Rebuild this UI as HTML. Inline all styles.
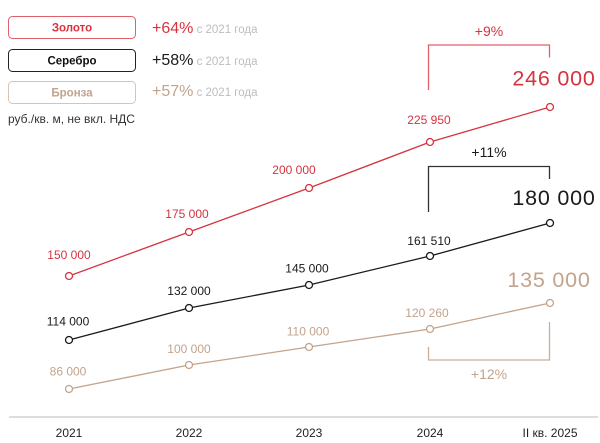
<!DOCTYPE html>
<html><head><meta charset="utf-8"><style>
html,body{margin:0;padding:0;background:#fff;}
svg{display:block;}
text{font-family:"Liberation Sans","DejaVu Sans",sans-serif;}
</style></head><body>
<svg width="600" height="443" viewBox="0 0 600 443" xmlns="http://www.w3.org/2000/svg">
<!-- legend -->
<rect x="8.5" y="16.5" width="127" height="22" rx="4" fill="#fff" stroke="#e0606a" stroke-width="1"/>
<text x="72" y="31.5" font-size="11.5" font-weight="bold" fill="#d6333f" text-anchor="middle">Золото</text>
<rect x="8.5" y="49.5" width="127" height="22" rx="4" fill="#fff" stroke="#222" stroke-width="1"/>
<text x="72" y="64.5" font-size="11.5" font-weight="bold" fill="#111" text-anchor="middle">Серебро</text>
<rect x="8.5" y="81.5" width="127" height="22" rx="4" fill="#fff" stroke="#d9c4b4" stroke-width="1"/>
<text x="72" y="96.5" font-size="11.5" font-weight="bold" fill="#c3a38b" text-anchor="middle">Бронза</text>

<text x="152" y="33" font-size="16" fill="#d6333f">+64%<tspan font-size="11.5" fill="#bdbdbd"> с 2021 года</tspan></text>
<text x="152" y="65" font-size="16" fill="#1a1a1a">+58%<tspan font-size="11.5" fill="#bdbdbd"> с 2021 года</tspan></text>
<text x="152" y="96" font-size="16" fill="#c3a38b">+57%<tspan font-size="11.5" fill="#bdbdbd"> с 2021 года</tspan></text>
<text x="8" y="123" font-size="12" fill="#333">руб./кв. м, не вкл. НДС</text>

<!-- axis -->
<line x1="9" y1="417" x2="598" y2="417" stroke="#dddddd" stroke-width="2"/>
<g font-size="12" fill="#222" text-anchor="middle">
<text x="69" y="437">2021</text>
<text x="189" y="437">2022</text>
<text x="309" y="437">2023</text>
<text x="430" y="437">2024</text>
<text x="550" y="437">II кв. 2025</text>
</g>

<!-- brackets -->
<polyline points="428.5,90 428.5,45 549.5,45 549.5,57.5" fill="none" stroke="#e0606a" stroke-width="1.3"/>
<text x="489" y="36" font-size="14" fill="#d6333f" text-anchor="middle">+9%</text>
<polyline points="428.5,212 428.5,166.5 549.5,166.5 549.5,179" fill="none" stroke="#333" stroke-width="1.3"/>
<text x="489" y="157" font-size="14" fill="#1a1a1a" text-anchor="middle">+11%</text>
<polyline points="428.5,347 428.5,360 549.5,360 549.5,322" fill="none" stroke="#c9ae99" stroke-width="1.3"/>
<text x="489" y="379" font-size="14" fill="#c3a38b" text-anchor="middle">+12%</text>

<!-- big labels -->
<text x="554" y="85.5" font-size="21.5" letter-spacing="0.8" fill="#d6333f" text-anchor="middle">246 000</text>
<text x="554" y="205" font-size="21.5" letter-spacing="0.8" fill="#1a1a1a" text-anchor="middle">180 000</text>
<text x="549" y="287" font-size="21.5" letter-spacing="0.8" fill="#c3a38b" text-anchor="middle">135 000</text>

<!-- series -->
<polyline points="69,276 189,232 309,188 430,142 550,107" fill="none" stroke="#d6333f" stroke-width="1.3"/>
<polyline points="69,340 189,308 309,285 430,256 550,223" fill="none" stroke="#1a1a1a" stroke-width="1.3"/>
<polyline points="69,389 189,365 309,347 430,329 550,303" fill="none" stroke="#c3a38b" stroke-width="1.3"/>
<g fill="#fff" stroke-width="1.3">
<g stroke="#d6333f"><circle cx="69" cy="276" r="3.5"/><circle cx="189" cy="232" r="3.5"/><circle cx="309" cy="188" r="3.5"/><circle cx="430" cy="142" r="3.5"/><circle cx="550" cy="107" r="3.5"/></g>
<g stroke="#1a1a1a"><circle cx="69" cy="340" r="3.5"/><circle cx="189" cy="308" r="3.5"/><circle cx="309" cy="285" r="3.5"/><circle cx="430" cy="256" r="3.5"/><circle cx="550" cy="223" r="3.5"/></g>
<g stroke="#c3a38b"><circle cx="69" cy="389" r="3.5"/><circle cx="189" cy="365" r="3.5"/><circle cx="309" cy="347" r="3.5"/><circle cx="430" cy="329" r="3.5"/><circle cx="550" cy="303" r="3.5"/></g>
</g>

<!-- point labels -->
<g font-size="12" text-anchor="middle">
<g fill="#d6333f">
<text x="69" y="259">150 000</text>
<text x="187" y="218">175 000</text>
<text x="294" y="174">200 000</text>
<text x="429" y="124">225 950</text>
</g>
<g fill="#1a1a1a">
<text x="68" y="325.5">114 000</text>
<text x="189" y="295">132 000</text>
<text x="307" y="272.5">145 000</text>
<text x="429" y="245">161 510</text>
</g>
<g fill="#c3a38b">
<text x="68" y="375.5">86 000</text>
<text x="189" y="353">100 000</text>
<text x="308" y="335.5">110 000</text>
<text x="427" y="317">120 260</text>
</g>
</g>
</svg>
</body></html>
